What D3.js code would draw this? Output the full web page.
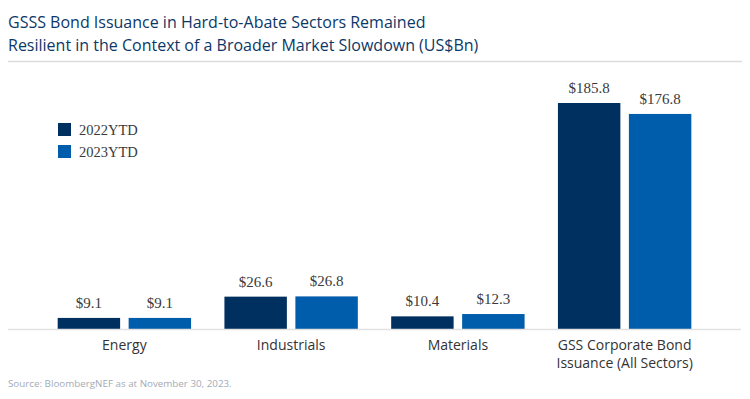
<!DOCTYPE html>
<html>
<head>
<meta charset="utf-8">
<script src="https://cdn.jsdelivr.net/npm/d3@7"></script>
<style>
  body { margin: 0; background: #fff; }
  svg { display: block; }
</style>
</head>
<body>
<svg width="750" height="399"></svg>
<script>
const categories = ['Energy', 'Industrials', 'Materials', 'GSS Corporate Bond|Issuance (All Sectors)'];
const seriesNames = ['2022YTD', '2023YTD'];
const values2022 = [9.1, 26.6, 10.4, 185.8];
const values2023 = [9.1, 26.8, 12.3, 176.8];
const colors = ['#00305f', '#005dab'];

const svg = d3.select('svg');

const titleFont = "'Open Sans', 'Noto Sans', sans-serif";
const numFont = "'Liberation Serif', 'DejaVu Serif', serif";

// title
const title = svg.append('text')
    .attr('fill', '#0c3868')
    .style('font-family', titleFont)
    .style('font-size', '16px');
title.append('tspan').attr('x', 8).attr('y', 28)
    .text('GSSS Bond Issuance in Hard-to-Abate Sectors Remained');
title.append('tspan').attr('x', 8).attr('y', 51)
    .text('Resilient in the Context of a Broader Market Slowdown (US$Bn)');

svg.append('line')
    .attr('x1', 8).attr('x2', 742)
    .attr('y1', 61.5).attr('y2', 61.5)
    .attr('stroke', '#dcdcdc')
    .attr('stroke-width', 1.5);

const baseY = 329;

const x = d3.scaleBand()
    .domain(categories)
    .range([41, 708])
    .paddingInner(0.2)
    .paddingOuter(0.1);

const xSub = d3.scaleBand()
    .domain(seriesNames)
    .range([0, x.bandwidth()])
    .paddingInner(0.12);

const y = d3.scaleLinear()
    .domain([0, 185.8])
    .range([baseY, 103]);

const rows = categories.map((c, i) => ({
    cat: c,
    vals: [values2022[i], values2023[i]]
}));

const groups = svg.selectAll('.grp')
    .data(rows)
    .join('g')
    .attr('class', 'grp')
    .attr('transform', d => `translate(${x(d.cat)},0)`);

const bars = groups.selectAll('g.bar')
    .data(d => d.vals.map((v, j) => ({ v, s: seriesNames[j], j })))
    .join('g')
    .attr('class', 'bar');

bars.append('rect')
    .attr('x', d => xSub(d.s))
    .attr('width', xSub.bandwidth())
    .attr('y', d => y(d.v))
    .attr('height', d => baseY - y(d.v))
    .attr('fill', d => colors[d.j]);

bars.append('text')
    .attr('x', d => xSub(d.s) + xSub.bandwidth() / 2)
    .attr('y', d => y(d.v) - 10)
    .attr('text-anchor', 'middle')
    .attr('fill', '#3a3a3a')
    .style('font-family', numFont)
    .style('font-size', '15px')
    .text(d => '$' + d.v.toFixed(1));

// baseline
svg.append('line')
    .attr('x1', 8).attr('x2', 741)
    .attr('y1', baseY + 0.5).attr('y2', baseY + 0.5)
    .attr('stroke', '#e2e2e2')
    .attr('stroke-width', 1.5);

// category labels
const catLabels = svg.selectAll('.cat')
    .data(categories)
    .join('text')
    .attr('class', 'cat')
    .attr('text-anchor', 'middle')
    .attr('fill', '#333')
    .style('font-family', titleFont)
    .style('font-size', '14px');

catLabels.each(function(d) {
    const lines = d.split('|');
    const cx = x(d) + x.bandwidth() / 2;
    d3.select(this).selectAll('tspan')
        .data(lines)
        .join('tspan')
        .attr('x', cx)
        .attr('y', (l, i) => 350 + i * 18)
        .text(l => l);
});

// legend
const legend = svg.append('g')
    .attr('transform', 'translate(58,123)');

const legendItems = legend.selectAll('g')
    .data(seriesNames)
    .join('g')
    .attr('transform', (d, i) => `translate(0,${i * 22})`);

legendItems.append('rect')
    .attr('width', 13)
    .attr('height', 13)
    .attr('fill', (d, i) => colors[i]);

legendItems.append('text')
    .attr('x', 21)
    .attr('y', 12)
    .attr('fill', '#3a3a3a')
    .style('font-family', numFont)
    .style('font-size', '14.5px')
    .text(d => d);

// source
svg.append('text')
    .attr('x', 8)
    .attr('y', 387)
    .attr('fill', '#a3abb6')
    .style('font-family', titleFont)
    .style('font-size', '9.8px')
    .text('Source: BloombergNEF as at November 30, 2023.');
</script>
</body>
</html>
